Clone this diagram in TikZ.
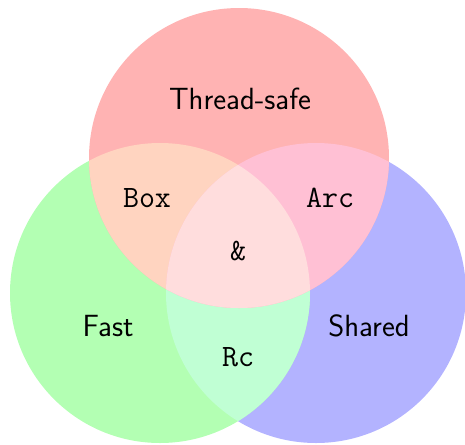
\documentclass[tikz,border=0pt]{standalone}
\usepackage{fontspec}
\definecolor{setred}{RGB}{255,179,179}
\definecolor{setgreen}{RGB}{179,255,179}
\definecolor{setblue}{RGB}{179,179,255}
\definecolor{redgreen}{RGB}{255,212,192}
\definecolor{redblue}{RGB}{255,192,212}
\definecolor{greenblue}{RGB}{192,255,212}
\definecolor{allthree}{RGB}{255,221,221}
\begin{document}
\begin{tikzpicture}[x=0.75pt,y=-0.75pt,
  setlabel/.style={font=\fontsize{23}{27}\selectfont\sffamily, anchor=base, inner sep=0pt},
  typelabel/.style={font=\fontsize{23.3}{27}\selectfont\ttfamily, anchor=base, inner sep=0pt}]
\useasboundingbox (0,0) rectangle (465,444);
\def\R{112.5pt}
\coordinate (T) at (239,158);
\coordinate (L) at (160,293);
\coordinate (Rt) at (316,293);
% the three sets
\fill[setblue] (Rt) circle[radius=\R];
\fill[setgreen] (L) circle[radius=\R];
\fill[setred] (T) circle[radius=\R];
% pairwise overlaps
\begin{scope}
  \clip (L) circle[radius=\R];
  \fill[greenblue] (Rt) circle[radius=\R];
\end{scope}
\begin{scope}
  \clip (T) circle[radius=\R];
  \fill[redgreen] (L) circle[radius=\R];
\end{scope}
\begin{scope}
  \clip (T) circle[radius=\R];
  \fill[redblue] (Rt) circle[radius=\R];
\end{scope}
% common part of all three
\begin{scope}
  \clip (T) circle[radius=\R];
  \clip (L) circle[radius=\R];
  \fill[allthree] (Rt) circle[radius=\R];
\end{scope}
% labels
\node[setlabel] (ts) at (240,109) {Thread-safe};
\node[setlabel] (fast) at (108,336) {Fast};
\node[setlabel] (shared) at (369,336) {Shared};
\node[typelabel] (box) at (147,207) {Box};
\node[typelabel] (arc) at (330,207) {Arc};
\node[typelabel] (amp) at (238,260) {\&};
\node[typelabel] (rc) at (238,366) {Rc};
\end{tikzpicture}
\end{document}
